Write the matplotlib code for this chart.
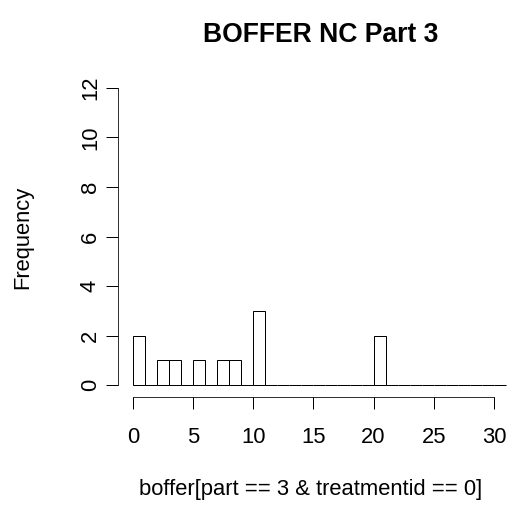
import matplotlib
matplotlib.use("Agg")
import matplotlib.pyplot as plt
import numpy as np

# histogram of boffer values, bins of width 1 from 0 to 31
bin_edges = np.arange(0, 32, 1)
counts = [2, 0, 1, 1, 0, 1, 0, 1, 1, 0, 3, 0, 0, 0, 0, 0, 0, 0, 0, 0, 2,
          0, 0, 0, 0, 0, 0, 0, 0, 0, 0]
x_ticks = [0, 5, 10, 15, 20, 25, 30]
y_ticks = [0, 2, 4, 6, 8, 10, 12]

plt.rcParams["font.family"] = ["Liberation Sans", "DejaVu Sans"]

W, H = 516, 512
fig = plt.figure(figsize=(W / 72, H / 72), dpi=72)
# plot region in pixels: left 118, top 76, bottom 397
left, top, bottom = 118, 76, 397
xmin, xmax = -1.24, 32.24
px_per_unit = (495 - 134) / 30
width = (xmax - xmin) * px_per_unit
ax = fig.add_axes([left / W, (H - bottom) / H, width / W, (bottom - top) / H])

ax.bar(bin_edges[:-1], counts, width=1, align="edge", facecolor="white",
       edgecolor="black", linewidth=1)

ax.set_xlim(xmin, xmax)
ax.set_ylim(-0.48, 12.48)
for s in ["top", "right"]:
    ax.spines[s].set_visible(False)
ax.spines["left"].set_bounds(0, 12)
ax.spines["bottom"].set_bounds(0, 30)
ax.set_xticks(x_ticks)
ax.set_yticks(y_ticks)
ax.tick_params(length=12, width=1, labelsize=22)
ax.tick_params(axis="x", pad=18)
ax.tick_params(axis="y", pad=5)
for lab in ax.get_yticklabels():
    lab.set_rotation(90)
    lab.set_va("center")

fig.text(311 / W, 1 - 490 / H, "boffer[part == 3 & treatmentid == 0]",
         fontsize=22, ha="center", va="center")
fig.text(23 / W, 1 - 237 / H, "Frequency", rotation=90, fontsize=22,
         ha="center", va="center")
fig.text(321 / W, 1 - 35 / H, "BOFFER NC Part 3", fontsize=26.5, fontweight="bold",
         ha="center", va="center")

fig.savefig("out.png", dpi=72)
